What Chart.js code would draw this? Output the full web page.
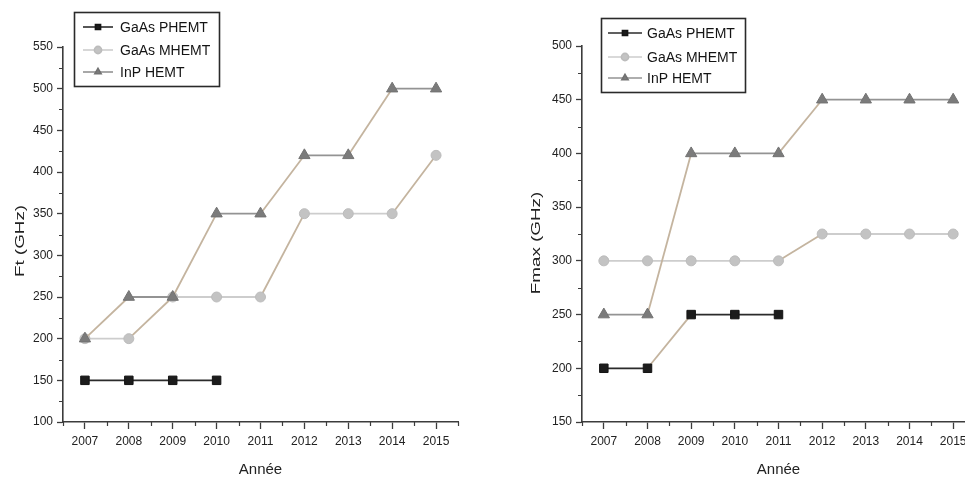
<!DOCTYPE html>
<html>
<head>
<meta charset="utf-8">
<title>Ft / Fmax HEMT</title>
<script src="https://cdn.jsdelivr.net/npm/chart.js@4/dist/chart.umd.min.js"></script>
<style>
  html, body { margin: 0; padding: 0; background: #fff; width: 965px; height: 480px; overflow: hidden; }
  #ft   { position: absolute; left: 0;     top: 0; }
  #fmax { position: absolute; left: 485px; top: 0; }
</style>
</head>
<body>
<canvas id="ft" width="485" height="480"></canvas>
<canvas id="fmax" width="500" height="480"></canvas>
<script>
// ---- data ----
const YEARS = [2007, 2008, 2009, 2010, 2011, 2012, 2013, 2014, 2015];
const SERIES = ['GaAs PHEMT', 'GaAs MHEMT', 'InP HEMT'];

const FT_PHEMT = [150, 150, 150, 150];
const FT_MHEMT = [200, 200, 250, 250, 250, 350, 350, 350, 420];
const FT_INP   = [200, 250, 250, 350, 350, 420, 420, 500, 500];

const FMAX_PHEMT = [200, 200, 250, 250, 250];
const FMAX_MHEMT = [300, 300, 300, 300, 300, 325, 325, 325, 325];
const FMAX_INP   = [250, 250, 400, 400, 400, 450, 450, 450, 450];

const FT_RANGE = [100, 550];
const FMAX_RANGE = [150, 500];
const Y_STEP = 50;

const X_TITLE = 'Année';
const FT_TITLE = 'Ft (GHz)';
const FMAX_TITLE = 'Fmax (GHz)';

// ---- styling ----
const FONT = '"Liberation Sans", Arial, sans-serif';
const AXIS = '#3c3c3c';
const TEXT = '#222222';
const SLOPE = '#c4b49f';
const STYLES = [
  { pointStyle: 'rect',     radius: 6.0, fill: '#1c1c1c', stroke: '#141414', line: '#2b2b2b', order: 1 },
  { pointStyle: 'circle',   radius: 5,   fill: '#c3c3c3', stroke: '#bcbcbc', line: '#cdcdcd', order: 2 },
  { pointStyle: 'triangle', radius: 6.5, fill: '#7b7b7b', stroke: '#727272', line: '#939393', order: 0 }
];

function toPoints(vals) {
  return vals.map((v, i) => ({ x: YEARS[i], y: v }));
}

function makeDatasets(seriesValues) {
  return seriesValues.map((vals, i) => {
    const s = STYLES[i];
    return {
      label: SERIES[i],
      data: toPoints(vals),
      borderColor: s.line,
      borderWidth: 1.8,
      tension: 0,
      fill: false,
      pointStyle: s.pointStyle,
      pointRadius: s.radius,
      pointBackgroundColor: s.fill,
      pointBorderColor: s.stroke,
      pointBorderWidth: 1,
      order: s.order,
      segment: {
        borderColor: c => (c.p0.parsed.y === c.p1.parsed.y ? s.line : SLOPE)
      }
    };
  });
}

// short outward ticks half-way between the labelled ones
const minorTicks = {
  id: 'minorTicks',
  afterDraw(chart) {
    const { ctx, chartArea: a, scales: { x, y } } = chart;
    ctx.save();
    ctx.strokeStyle = AXIS;
    ctx.lineWidth = 1.2;
    ctx.beginPath();
    for (let v = x.min; v <= x.max + 1e-9; v += 1) {
      const px = Math.round(x.getPixelForValue(v)) + 0.5;
      ctx.moveTo(px, a.bottom);
      ctx.lineTo(px, a.bottom + 4);
    }
    for (let v = y.min + Y_STEP / 2; v < y.max; v += Y_STEP) {
      const py = Math.round(y.getPixelForValue(v)) + 0.5;
      ctx.moveTo(a.left - 4, py);
      ctx.lineTo(a.left, py);
    }
    ctx.stroke();
    ctx.restore();
  }
};

// framed legend and the rotated y title
const decorations = {
  id: 'decorations',
  afterDraw(chart, args, o) {
    const { ctx } = chart;
    ctx.save();

    // y title, stretched along its reading direction
    ctx.save();
    ctx.translate(o.titleX, o.titleY);
    ctx.rotate(-Math.PI / 2);
    ctx.scale(1.45, 1);
    ctx.font = '13px ' + FONT;
    ctx.fillStyle = TEXT;
    ctx.textAlign = 'center';
    ctx.textBaseline = 'middle';
    ctx.fillText(o.title, 0, 0);
    ctx.restore();

    // legend frame
    const b = o.box;
    ctx.strokeStyle = '#2a2a2a';
    ctx.lineWidth = 1.6;
    ctx.strokeRect(b.x + 0.5, b.y + 0.5, b.w, b.h);

    chart.data.datasets.forEach((ds, i) => {
      const cy = o.rows[i];
      ctx.strokeStyle = ds.borderColor;
      ctx.lineWidth = 1.6;
      ctx.beginPath();
      ctx.moveTo(o.lineX0, cy);
      ctx.lineTo(o.lineX1, cy);
      ctx.stroke();
      ctx.fillStyle = ds.pointBackgroundColor;
      ctx.strokeStyle = ds.pointBorderColor;
      Chart.helpers.drawPoint(ctx, { pointStyle: ds.pointStyle, radius: 3.6, borderWidth: 1, rotation: 0 },
        (o.lineX0 + o.lineX1) / 2, cy);
      ctx.font = '14px ' + FONT;
      ctx.fillStyle = '#141414';
      ctx.textAlign = 'left';
      ctx.textBaseline = 'middle';
      ctx.fillText(ds.label, o.textX, cy + 1);
    });
    ctx.restore();
  }
};

function makeChart(id, seriesValues, range, layout, deco) {
  return new Chart(document.getElementById(id), {
    type: 'line',
    data: { datasets: makeDatasets(seriesValues) },
    plugins: [minorTicks, decorations],
    options: {
      responsive: false,
      animation: false,
      events: [],
      layout: { padding: { left: 0, right: layout.right, top: layout.top, bottom: 0 } },
      plugins: {
        legend: { display: false },
        tooltip: { enabled: false },
        decorations: deco
      },
      scales: {
        x: {
          type: 'linear',
          min: YEARS[0] - 0.5,
          max: YEARS[YEARS.length - 1] + 0.5,
          afterBuildTicks: sc => { sc.ticks = YEARS.map(v => ({ value: v })); },
          afterFit: sc => { sc.height = 58; },
          ticks: {
            callback: v => String(v),
            font: { family: FONT, size: 12 },
            color: TEXT,
            padding: 5,
            maxRotation: 0,
            autoSkip: false
          },
          grid: { drawOnChartArea: false, drawTicks: true, tickLength: 7, tickColor: AXIS, tickWidth: 1.3 },
          border: { color: AXIS, width: 1.6 },
          title: {
            display: true,
            text: X_TITLE,
            font: { family: FONT, size: 15 },
            color: TEXT,
            padding: { top: 0, bottom: 1 }
          }
        },
        y: {
          type: 'linear',
          min: range[0],
          max: range[1],
          afterFit: sc => { sc.width = layout.yWidth; },
          ticks: {
            stepSize: Y_STEP,
            callback: v => String(v),
            font: { family: FONT, size: 12 },
            color: TEXT,
            padding: 4
          },
          grid: { drawOnChartArea: false, drawTicks: true, tickLength: 6, tickColor: AXIS, tickWidth: 1.3 },
          border: { color: AXIS, width: 1.6 },
          title: { display: false }
        }
      }
    }
  });
}

makeChart('ft', [FT_PHEMT, FT_MHEMT, FT_INP], FT_RANGE,
  { yWidth: 63, right: 27, top: 47 },
  {
    title: FT_TITLE, titleX: 20, titleY: 241,
    box: { x: 74, y: 12, w: 145, h: 74 },
    rows: [27, 50, 72], lineX0: 83, lineX1: 113, textX: 120
  });

makeChart('fmax', [FMAX_PHEMT, FMAX_MHEMT, FMAX_INP], FMAX_RANGE,
  { yWidth: 97, right: 10, top: 46 },
  {
    title: FMAX_TITLE, titleX: 51, titleY: 243,
    box: { x: 116, y: 18, w: 144, h: 74 },
    rows: [33, 57, 78], lineX0: 123, lineX1: 157, textX: 162
  });
</script>
</body>
</html>
